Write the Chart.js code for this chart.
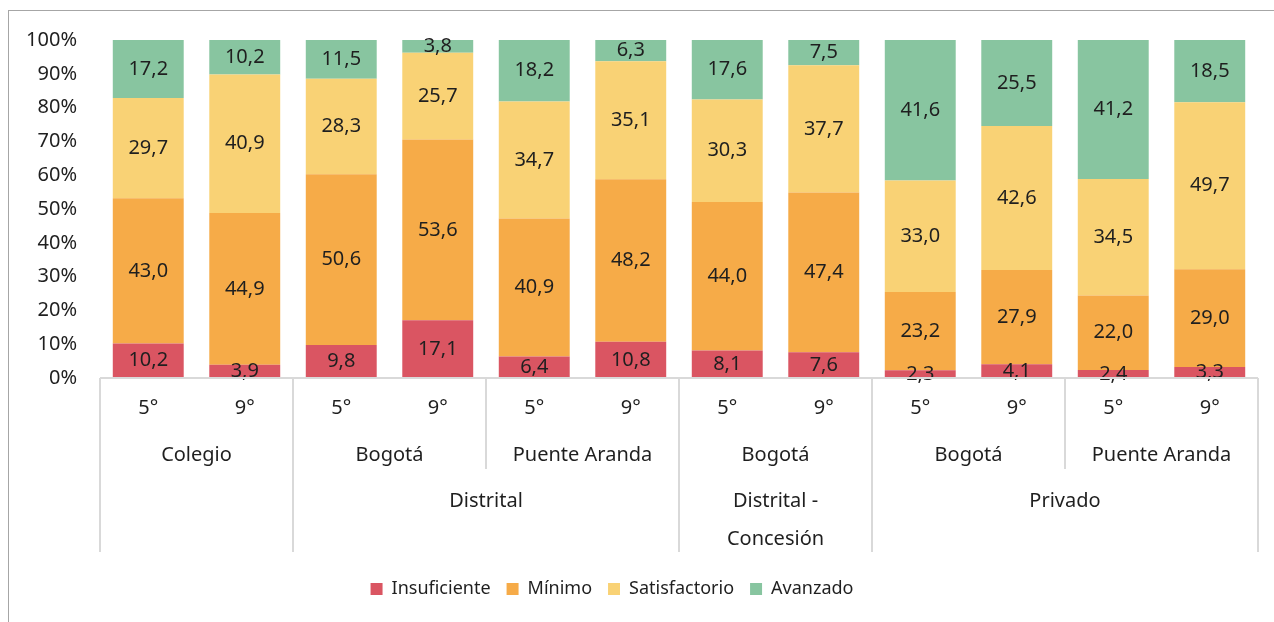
<!DOCTYPE html>
<html>
<head>
<meta charset="utf-8">
<script src="https://cdn.jsdelivr.net/npm/chart.js@4.4.0/dist/chart.umd.min.js"></script>
<style>
  html, body { margin: 0; padding: 0; background: #fff; overflow: hidden; }
  #frame { position: absolute; left: 8px; top: 10px; width: 1300px; height: 700px; border: 1px solid #a6a6a6; }
  #wrap { position: absolute; left: 0; top: 0; width: 1274px; height: 622px; }
</style>
</head>
<body>
<div id="frame"></div>
<div id="wrap"><canvas id="chart"></canvas></div>
<script>
// grado, grupo y sector de cada barra
const categories = ['5°', '9°', '5°', '9°', '5°', '9°', '5°', '9°', '5°', '9°', '5°', '9°'];
const groups = ['Colegio', 'Colegio', 'Bogotá', 'Bogotá', 'Puente Aranda', 'Puente Aranda',
    'Bogotá', 'Bogotá', 'Bogotá', 'Bogotá', 'Puente Aranda', 'Puente Aranda'];
const sectors = ['', '', 'Distrital', 'Distrital', 'Distrital', 'Distrital',
    'Distrital - Concesión', 'Distrital - Concesión', 'Privado', 'Privado', 'Privado', 'Privado'];

const insuficiente = [10.2, 3.9, 9.8, 17.1, 6.4, 10.8, 8.1, 7.6, 2.3, 4.1, 2.4, 3.3];
const minimo = [43.0, 44.9, 50.6, 53.6, 40.9, 48.2, 44.0, 47.4, 23.2, 27.9, 22.0, 29.0];
const satisfactorio = [29.7, 40.9, 28.3, 25.7, 34.7, 35.1, 30.3, 37.7, 33.0, 42.6, 34.5, 49.7];
const avanzado = [17.2, 10.2, 11.5, 3.8, 18.2, 6.3, 17.6, 7.5, 41.6, 25.5, 41.2, 18.5];

const yTicks = [0, 10, 20, 30, 40, 50, 60, 70, 80, 90, 100];

const FONT = 'Noto Sans';
const TEXT = '#1f1f1f';
const LINE = '#d9d9d9';

// barras al 100 %
const totals = categories.map((_, i) => insuficiente[i] + minimo[i] + satisfactorio[i] + avanzado[i]);
const share = arr => arr.map((v, i) => v / totals[i] * 100);

function serie(label, values, color) {
    return {
        label: label,
        data: share(values),
        values: values,
        backgroundColor: color,
        borderWidth: 0,
        categoryPercentage: 1,
        barPercentage: 0.735
    };
}

const valueLabels = {
    id: 'valueLabels',
    afterDatasetsDraw(chart) {
        const ctx = chart.ctx;
        ctx.save();
        ctx.font = '20px "' + FONT + '"';
        ctx.fillStyle = TEXT;
        ctx.textAlign = 'center';
        ctx.textBaseline = 'middle';
        chart.data.datasets.forEach((ds, d) => {
            chart.getDatasetMeta(d).data.forEach((bar, i) => {
                const txt = ds.values[i].toFixed(1).replace('.', ',');
                ctx.fillText(txt, bar.x, (bar.y + bar.base) / 2);
            });
        });
        ctx.restore();
    }
};

// eje de categorías en tres niveles
const groupAxis = {
    id: 'groupAxis',
    afterLayout(chart) {
        // la leyenda del original queda algo a la izquierda del centro
        chart.legend.right -= 34;
    },
    afterDraw(chart) {
        const ctx = chart.ctx;
        const x = chart.scales.x;
        const top = chart.chartArea.bottom;
        const half = (x.getPixelForValue(1) - x.getPixelForValue(0)) / 2;
        const edge = i => x.getPixelForValue(i) - half;
        const n = categories.length;
        const row2Bottom = top + 91;
        const row3Bottom = top + 174;

        ctx.save();
        ctx.strokeStyle = LINE;
        ctx.lineWidth = 2;
        ctx.beginPath();
        ctx.moveTo(edge(0), top);
        ctx.lineTo(edge(n), top);
        ctx.stroke();

        ctx.font = '20px "' + FONT + '"';
        ctx.fillStyle = TEXT;
        ctx.textAlign = 'center';
        ctx.textBaseline = 'middle';

        categories.forEach((c, i) => ctx.fillText(c, x.getPixelForValue(i), top + 30));

        function runs(keyOf) {
            const out = [];
            let start = 0;
            for (let i = 1; i <= n; i++) {
                if (i === n || keyOf(i) !== keyOf(start)) {
                    out.push([start, i]);
                    start = i;
                }
            }
            return out;
        }

        const sectorRuns = runs(i => sectors[i]);
        const groupRuns = runs(i => sectors[i] + '|' + groups[i]);
        const sectorEdges = new Set();
        sectorRuns.forEach(r => { sectorEdges.add(r[0]); sectorEdges.add(r[1]); });

        const drawLine = (i, bottom) => {
            const px = Math.round(edge(i));
            ctx.beginPath();
            ctx.moveTo(px, top);
            ctx.lineTo(px, bottom);
            ctx.stroke();
        };

        groupRuns.forEach(r => {
            [r[0], r[1]].forEach(i => drawLine(i, sectorEdges.has(i) ? row3Bottom : row2Bottom));
            ctx.fillText(groups[r[0]], (edge(r[0]) + edge(r[1])) / 2, top + 77);
        });

        sectorRuns.forEach(r => {
            const label = sectors[r[0]];
            if (!label) return;
            const cx = (edge(r[0]) + edge(r[1])) / 2;
            const span = edge(r[1]) - edge(r[0]);
            let lines = [label];
            if (ctx.measureText(label).width > span - 30) {
                const cut = label.lastIndexOf(' ');
                lines = [label.slice(0, cut), label.slice(cut + 1)];
            }
            lines.forEach((l, k) => ctx.fillText(l, cx, top + 123 + k * 38));
        });
        ctx.restore();
    }
};

new Chart(document.getElementById('chart'), {
    type: 'bar',
    data: {
        labels: categories,
        datasets: [
            serie('Insuficiente', insuficiente, '#da5562'),
            serie('Mínimo', minimo, '#f6ab48'),
            serie('Satisfactorio', satisfactorio, '#f9d275'),
            serie('Avanzado', avanzado, '#88c5a0')
        ]
    },
    options: {
        responsive: true,
        maintainAspectRatio: false,
        animation: false,
        layout: {
            padding: { top: 40, right: 16, bottom: 14, left: 0 }
        },
        scales: {
            x: {
                stacked: true,
                grid: { display: false, drawTicks: false },
                border: { display: false },
                ticks: { display: false },
                afterFit: scale => { scale.height = 186; }
            },
            y: {
                stacked: true,
                min: 0,
                max: 100,
                afterBuildTicks: scale => { scale.ticks = yTicks.map(v => ({ value: v })); },
                afterFit: scale => { scale.width = 100; },
                grid: { display: false, drawTicks: false },
                border: { display: false },
                ticks: {
                    padding: 23,
                    color: TEXT,
                    font: { family: FONT, size: 20 },
                    callback: v => v + '%'
                }
            }
        },
        plugins: {
            legend: {
                position: 'bottom',
                labels: {
                    boxWidth: 12,
                    boxHeight: 12,
                    padding: 16,
                    color: TEXT,
                    font: { family: FONT, size: 18 }
                }
            },
            tooltip: { enabled: false }
        }
    },
    plugins: [valueLabels, groupAxis]
});
</script>
</body>
</html>
